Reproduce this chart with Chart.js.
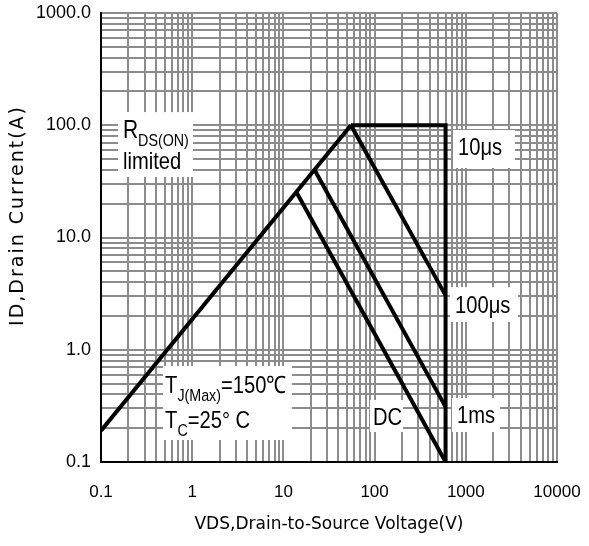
<!DOCTYPE html>
<html><head><meta charset="utf-8">
<script src="https://cdn.jsdelivr.net/npm/chart.js@4/dist/chart.umd.min.js"></script>
<style>html,body{margin:0;padding:0;background:#fff}#wrap{width:589px;height:546px}</style>
</head><body><div id="wrap"><canvas id="c" width="589" height="546"></canvas></div>
<script>
// ---- tick labels ----
const xTickValues = [0.1, 1, 10, 100, 1000, 10000];
const xTickLabels = ['0.1', '1', '10', '100', '1000', '10000'];
const yTickValues = [0.1, 1, 10, 100, 1000];
const yTickLabels = ['0.1', '1.0', '10.0', '100.0', '1000.0'];

// ---- series (VDS in V, ID in A) ----
const rdsV   = [0.1, 55];
const rdsI   = [0.19, 100];
const us10V  = [55, 600, 600];
const us10I  = [100, 100, 0.1];
const us100V = [55, 600];
const us100I = [100, 3.05];
const ms1V   = [22, 600];
const ms1I   = [40, 0.31];
const dcV    = [14, 600];
const dcI    = [25, 0.1];

const xTitle = 'VDS,Drain-to-Source Voltage(V)';
const yTitle = 'ID,Drain Current(A)';

function pts(xs, ys) { return xs.map((v, i) => ({x: v, y: ys[i]})); }
function logGrid(min, max) {
  const out = [];
  for (let e = Math.floor(Math.log10(min)); e <= Math.ceil(Math.log10(max)); e++) {
    for (let m = 1; m <= 9; m++) {
      const v = +(m * Math.pow(10, e)).toPrecision(6);
      if (v >= min * 0.999999 && v <= max * 1.000001) out.push(v);
    }
  }
  return out;
}
function lookup(v, vals, labels) {
  for (let i = 0; i < vals.length; i++) {
    if (Math.abs(Math.log10(v) - Math.log10(vals[i])) < 1e-6) return labels[i];
  }
  return '';
}

// ---- annotation boxes & labels (anchored in data coordinates) ----
const labelBoxes = [
  {x0: 0.154, x1: 1.02, y0: 131, y1: 34.6},
  {x0: 724, x1: 3460, y0: 90.7, y1: 41.6},
  {x0: 671, x1: 3735, y0: 3.62, y1: 1.77},
  {x0: 706, x1: 2371, y0: 0.372, y1: 0.185},
  {x0: 89, x1: 205, y0: 0.356, y1: 0.185},
  {x0: 0.479, x1: 12.4, y0: 0.716, y1: 0.157}
];
const labelTexts = [
  {x: 0.174, y: 76.9, parts: [{t: 'R', size: 25}, {t: 'DS(ON)', sub: true}]},
  {x: 0.174, y: 40.8, parts: [{t: 'limited'}]},
  {x: 821, y: 54.3, parts: [{t: '10\u03bcs'}]},
  {x: 762, y: 2.12, parts: [{t: '100\u03bcs'}]},
  {x: 801, y: 0.222, parts: [{t: '1ms'}]},
  {x: 96, y: 0.214, parts: [{t: 'DC'}]},
  {x: 0.504, y: 0.412, parts: [{t: 'T'}, {t: 'J(Max)', sub: true}, {t: '=150\u2103'}]},
  {x: 0.504, y: 0.201, parts: [{t: 'T'}, {t: 'C', sub: true}, {t: '=25\u00b0 C'}]}
];

const MAIN = 24, SUB = 17, SUBDY = 8, SX = 0.84;
const FONT = '"Liberation Sans", Arial, sans-serif';

function drawRich(ctx, parts, px, py) {
  let cx = px;
  for (const p of parts) {
    const size = p.size || (p.sub ? SUB : MAIN);
    ctx.font = size + 'px ' + FONT;
    const w = ctx.measureText(p.t).width * SX;
    ctx.save();
    ctx.translate(cx, py + (p.sub ? SUBDY : 0));
    ctx.scale(SX, 1);
    ctx.fillText(p.t, 0, 0);
    ctx.restore();
    cx += w;
  }
}

const annotPlugin = {
  id: 'annot',
  beforeDatasetsDraw(chart) {
    const {ctx, scales: {x, y}} = chart;
    ctx.save();
    ctx.fillStyle = '#ffffff';
    for (const b of labelBoxes) {
      const x0 = x.getPixelForValue(b.x0), x1 = x.getPixelForValue(b.x1);
      const y0 = y.getPixelForValue(b.y0), y1 = y.getPixelForValue(b.y1);
      ctx.fillRect(x0, y0, x1 - x0, y1 - y0);
    }
    ctx.restore();
  },
  afterDatasetsDraw(chart) {
    const {ctx, scales: {x, y}} = chart;
    ctx.save();
    ctx.fillStyle = '#000';
    ctx.textBaseline = 'alphabetic';
    ctx.textAlign = 'left';
    for (const l of labelTexts) {
      drawRich(ctx, l.parts, x.getPixelForValue(l.x), y.getPixelForValue(l.y));
    }
    ctx.restore();
  },
  afterDraw(chart) {
    // y-axis title, drawn with letter spacing
    const {ctx, chartArea} = chart;
    ctx.save();
    ctx.fillStyle = '#000';
    ctx.font = '19px "DejaVu Sans", sans-serif';
    if ('letterSpacing' in ctx) ctx.letterSpacing = '2px';
    ctx.textAlign = 'center';
    ctx.textBaseline = 'middle';
    ctx.translate(18, (chartArea.top + chartArea.bottom) / 2 - 22);
    ctx.rotate(-Math.PI / 2);
    ctx.fillText(yTitle, 0, 0);
    ctx.restore();
  }
};

const lineStyle = {borderColor: '#000', borderWidth: 4, pointRadius: 0, showLine: true, fill: false, tension: 0};

new Chart(document.getElementById('c'), {
  type: 'scatter',
  data: {
    datasets: [
      Object.assign({label: 'RDS(ON) limited', data: pts(rdsV, rdsI)}, lineStyle),
      Object.assign({label: '10\u03bcs', data: pts(us10V, us10I)}, lineStyle),
      Object.assign({label: '100\u03bcs', data: pts(us100V, us100I)}, lineStyle),
      Object.assign({label: '1ms', data: pts(ms1V, ms1I)}, lineStyle),
      Object.assign({label: 'DC', data: pts(dcV, dcI)}, lineStyle)
    ]
  },
  options: {
    responsive: false,
    animation: false,
    devicePixelRatio: 1,
    layout: {padding: {left: 0, right: 32, top: 13, bottom: 0}},
    plugins: {legend: {display: false}, tooltip: {enabled: false}},
    scales: {
      x: {
        type: 'logarithmic', min: 0.1, max: 10000,
        afterBuildTicks: s => { s.ticks = logGrid(0.1, 10000).map(v => ({value: v})); },
        afterFit: s => { s.height = 84; s.paddingLeft = 0; s.paddingRight = 0; },
        ticks: {
          callback: v => lookup(v, xTickValues, xTickLabels),
          autoSkip: false, maxRotation: 0, minRotation: 0, padding: 20,
          color: '#000', font: {family: FONT, size: 17}
        },
        grid: {color: '#8c8c8c', lineWidth: 2, drawTicks: false},
        border: {color: '#000', width: 2},
        title: {display: true, text: xTitle, color: '#000',
          font: {family: '"DejaVu Sans", sans-serif', size: 17}, padding: {top: 0, bottom: 11}}
      },
      y: {
        type: 'logarithmic', min: 0.1, max: 1000,
        afterBuildTicks: s => { s.ticks = logGrid(0.1, 1000).map(v => ({value: v})); },
        afterFit: s => { s.width = 101; s.paddingTop = 0; s.paddingBottom = 0; },
        ticks: {
          callback: v => lookup(v, yTickValues, yTickLabels),
          autoSkip: false, padding: 10,
          color: '#000', font: {family: FONT, size: 18}
        },
        grid: {color: '#8c8c8c', lineWidth: 2, drawTicks: false},
        border: {color: '#000', width: 2},
        title: {display: false, text: yTitle}
      }
    }
  },
  plugins: [annotPlugin]
});
</script>
</body></html>
